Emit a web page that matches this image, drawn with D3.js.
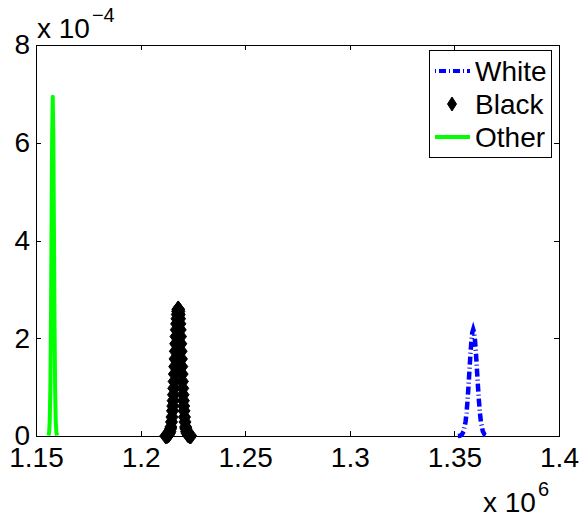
<!DOCTYPE html>
<html>
<head>
<meta charset="utf-8">
<script src="https://cdn.jsdelivr.net/npm/d3@7"></script>
<style>
  html, body { margin: 0; padding: 0; background: #fff; }
  svg { display: block; }
  text { font-family: "Liberation Sans", Arial, Helvetica, sans-serif; fill: #000; }
</style>
</head>
<body>
<svg id="chart" width="582" height="518"></svg>
<script>
// ---------- data (x in raw units, y in units of 1e-4) ----------
const seriesNames = ["White", "Black", "Other"];

const whiteX = [1351680, 1352595, 1353510, 1354425, 1355340, 1355797, 1356255, 1356712, 1357170, 1357627, 1358085, 1358542,
                1359000,
                1359458, 1359915, 1360373, 1360830, 1361288, 1361745, 1362203, 1362660, 1363575, 1364490, 1365405, 1366320];
const whiteY = [0.0007, 0.0048, 0.0242, 0.0957, 0.295, 0.4716, 0.708, 0.998, 1.322, 1.645, 1.924, 2.113,
                2.18,
                2.113, 1.924, 1.645, 1.322, 0.998, 0.708, 0.4716, 0.295, 0.0957, 0.0242, 0.0048, 0.0007];

const blackX = [1212017, 1212631, 1213245, 1213705, 1214012, 1214318, 1214472, 1214779, 1215009, 1215239, 1215392, 1215546,
                1215699, 1215852, 1216006, 1216159, 1216313, 1216466, 1216619, 1216773, 1216926, 1217080, 1217233,
                1217386, 1217540, 1217693, 1217847,
                1218000,
                1218153, 1218307, 1218460, 1218614, 1218767, 1218920, 1219074, 1219227, 1219381, 1219534, 1219687,
                1219841, 1219994, 1220148, 1220301, 1220454, 1220608, 1220761, 1220991, 1221221, 1221528, 1221682,
                1221988, 1222295, 1222755, 1223369, 1223983];
const blackY = [0.0013, 0.0057, 0.0213, 0.0515, 0.088, 0.146, 0.185, 0.287, 0.388, 0.515, 0.613, 0.723,
                0.844, 0.976, 1.117, 1.266, 1.420, 1.577, 1.734, 1.888, 2.035, 2.172, 2.295,
                2.400, 2.486, 2.549, 2.587,
                2.600,
                2.587, 2.549, 2.486, 2.400, 2.295, 2.172, 2.035, 1.888, 1.734, 1.577, 1.420,
                1.266, 1.117, 0.976, 0.844, 0.723, 0.613, 0.515, 0.388, 0.287, 0.185, 0.146,
                0.088, 0.0515, 0.0213, 0.0057, 0.0013];

const otherX = [1155930, 1156275, 1156563, 1156850, 1157138, 1157425, 1157713, 1158000,
                1158288, 1158575, 1158863, 1159150, 1159438, 1159725, 1160070];
const otherY = [0.011, 0.077, 0.305, 0.939, 2.253, 4.209, 6.125, 6.94,
                6.125, 4.209, 2.253, 0.939, 0.305, 0.077, 0.011];

const xTicks = [1150000, 1200000, 1250000, 1300000, 1350000, 1400000];
const xTickLabels = ["1.15", "1.2", "1.25", "1.3", "1.35", "1.4"];
const yTicks = [0, 2, 4, 6, 8];
const yTickLabels = ["0", "2", "4", "6", "8"];
const xExponent = "6";
const yExponent = "\u22124";

// ---------- layout ----------
const svg = d3.select("#chart");
const L = 36, R = 559, T = 45, B = 436;
const FS = 28;

const x = d3.scaleLinear().domain([1150000, 1400000]).range([L, R]);
const y = d3.scaleLinear().domain([0, 8]).range([B, T]);

// box
svg.append("rect").attr("x", L).attr("y", T).attr("width", R - L).attr("height", B - T)
  .attr("fill", "#fff").attr("stroke", "#000").attr("stroke-width", 1).attr("shape-rendering", "crispEdges");

// axes
const tickLen = 5;
const xb = svg.append("g").attr("transform", `translate(0,${B})`)
  .call(d3.axisBottom(x).tickValues(xTicks).tickSize(-tickLen).tickPadding(11)
    .tickFormat((d, i) => xTickLabels[i]));
const xt = svg.append("g").attr("transform", `translate(0,${T})`)
  .call(d3.axisTop(x).tickValues(xTicks).tickSize(-tickLen).tickFormat(""));
const yl = svg.append("g").attr("transform", `translate(${L},0)`)
  .call(d3.axisLeft(y).tickValues(yTicks).tickSize(-tickLen).tickPadding(6)
    .tickFormat((d, i) => yTickLabels[i]));
const yr = svg.append("g").attr("transform", `translate(${R},0)`)
  .call(d3.axisRight(y).tickValues(yTicks).tickSize(-tickLen).tickFormat(""));
[xb, xt, yl, yr].forEach(g => {
  g.select(".domain").remove();
  g.selectAll("line").attr("stroke", "#000").attr("shape-rendering", "crispEdges");
  g.selectAll("text").attr("font-size", FS).attr("font-family", null).style("fill", "#000");
});

// series
const line = d3.line().x(d => x(d[0])).y(d => y(d[1]));
const white = d3.zip(whiteX, whiteY);
const black = d3.zip(blackX, blackY);
const other = d3.zip(otherX, otherY);

svg.append("path").datum(white).attr("d", line)
  .attr("fill", "none").attr("stroke", "#0000ff").attr("stroke-width", 4.5)
  .attr("stroke-dasharray", "8,3,1,3");

const diamond = (cx, cy, w, h) => `M${cx},${cy - h}L${cx + w},${cy}L${cx},${cy + h}L${cx - w},${cy}Z`;
svg.append("g").selectAll("path").data(black).join("path")
  .attr("d", d => diamond(x(d[0]), y(d[1]), 6, 8))
  .attr("fill", "#000").attr("stroke", "#000").attr("stroke-width", 1);

svg.append("path").datum(other).attr("d", line)
  .attr("fill", "none").attr("stroke", "#00ff00").attr("stroke-width", 4)
  .attr("stroke-linejoin", "round");

// exponent labels
const ty = svg.append("text").attr("x", 37).attr("y", 38).attr("font-size", FS);
ty.append("tspan").text("x 10");
ty.append("tspan").attr("font-size", 20).attr("dy", -16).attr("dx", 2).text(yExponent);

const tx = svg.append("text").attr("x", 549).attr("y", 512).attr("font-size", FS).attr("text-anchor", "end");
tx.append("tspan").text("x 10");
tx.append("tspan").attr("font-size", 20).attr("dy", -16).attr("dx", 2).text(xExponent);

// legend
const lg = svg.append("g");
lg.append("rect").attr("x", 429).attr("y", 50).attr("width", 122).attr("height", 107)
  .attr("fill", "#fff").attr("stroke", "#000").attr("stroke-width", 1).attr("shape-rendering", "crispEdges");
const rows = [71, 104, 137];
lg.append("line").attr("x1", 435).attr("x2", 470).attr("y1", rows[0]).attr("y2", rows[0])
  .attr("stroke", "#0000ff").attr("stroke-width", 4).attr("stroke-dasharray", "1,3,7,3");
lg.append("path").attr("d", diamond(452, rows[1], 4.5, 7)).attr("fill", "#000").attr("stroke", "#000");
lg.append("line").attr("x1", 435).attr("x2", 470).attr("y1", rows[2]).attr("y2", rows[2])
  .attr("stroke", "#00ff00").attr("stroke-width", 4);
seriesNames.forEach((n, i) => {
  lg.append("text").attr("x", 475).attr("y", rows[i]).attr("dy", "0.36em")
    .attr("font-size", FS).text(n);
});
</script>
</body>
</html>
